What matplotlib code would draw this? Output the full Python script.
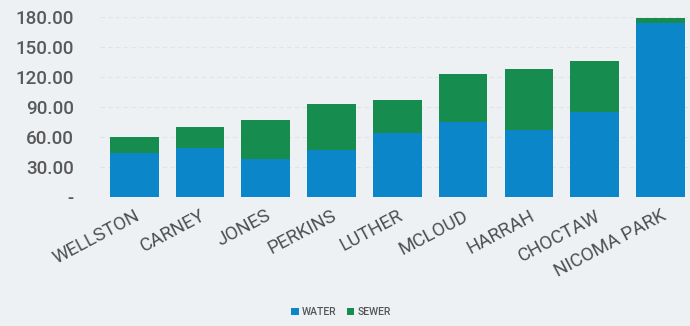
import matplotlib
matplotlib.use("Agg")
from matplotlib import pyplot as plt
import numpy as np

# rate components per town
towns = ["WELLSTON", "CARNEY", "JONES", "PERKINS", "LUTHER",
         "MCLOUD", "HARRAH", "CHOCTAW", "NICOMA PARK"]
water = [43.7, 48.7, 37.7, 46.7, 63.6, 75.5, 66.6, 85.4, 174.0]
sewer = [15.9, 20.8, 39.8, 46.7, 33.8, 47.5, 61.4, 50.6, 4.8]
y_ticks = [0, 30, 60, 90, 120, 150, 180]

water_color = "#0b87c9"
sewer_color = "#178c4f"
bg = "#eef1f4"

plt.rcParams["font.family"] = ["Roboto", "DejaVu Sans"]

fig = plt.figure(figsize=(6.9, 3.26), dpi=100, facecolor=bg)
ax = fig.add_axes([100 / 690, 1 - 197 / 326, 590 / 690, 180 / 326])
ax.set_facecolor(bg)

x = np.arange(len(towns))
ax.bar(x, water, width=0.74, color=water_color, label="WATER", zorder=3)
ax.bar(x, sewer, width=0.74, bottom=water, color=sewer_color, label="SEWER", zorder=3)

ax.set_xlim(-0.52, 8.45)
ax.set_ylim(0, 180)
ax.set_yticks(y_ticks)
ax.set_yticklabels(["-" if v == 0 else f"{v:.2f}" for v in y_ticks],
                   fontsize=13.5, color="#595959", fontweight="medium")
ax.tick_params(axis="y", length=0, pad=19)
ax.set_xticks(x)
ax.set_xticklabels(towns, rotation=28, ha="right", rotation_mode="anchor",
                   fontsize=13.5, color="#4f4f4f",
                   family=["Liberation Sans Narrow", "Roboto"])
ax.tick_params(axis="x", length=0, pad=7)

ax.grid(axis="y", color="#e0e4e8", linewidth=0.8, linestyle=(0, (4, 3)), zorder=0)
for s in ax.spines.values():
    s.set_visible(False)

fig.legend(loc="center", bbox_to_anchor=(341 / 690, 1 - 312 / 326), ncol=2,
           frameon=False, handlelength=0.7, handleheight=0.7,
           handletextpad=0.3, columnspacing=1.0, labelcolor="#555555",
           prop={"weight": "medium", "size": 7.5})

fig.savefig("out.png", dpi=100, facecolor=bg)
